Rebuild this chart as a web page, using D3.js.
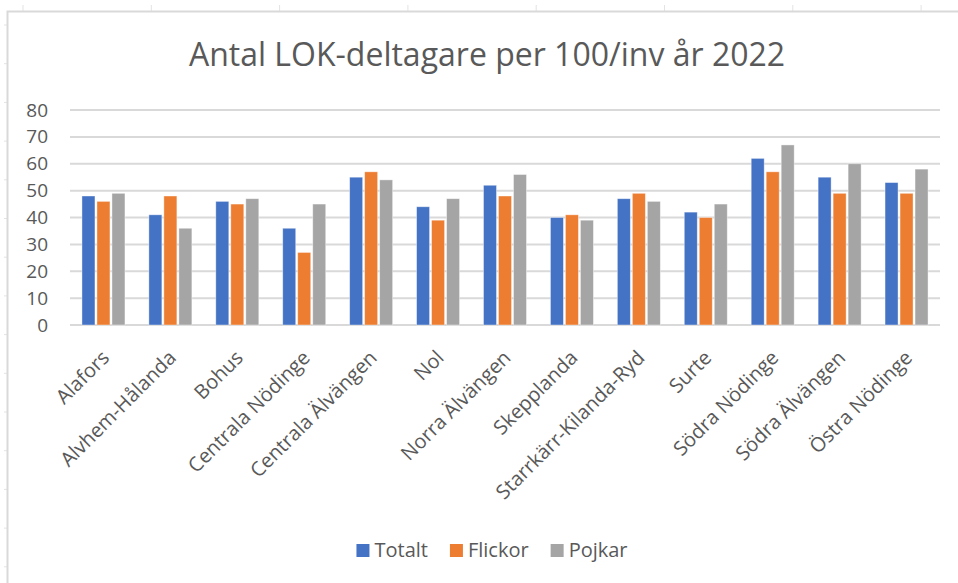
<!DOCTYPE html>
<html>
<head>
<meta charset="utf-8">
<script src="https://cdn.jsdelivr.net/npm/d3@7"></script>
<style>
  body { margin: 0; background: #fff; }
  text { font-family: "Open Sans", sans-serif; fill: #595959; }
</style>
</head>
<body>
<div class="chart"></div>
<script>
// data
var categories = ["Alafors", "Alvhem-Hålanda", "Bohus", "Centrala Nödinge", "Centrala Älvängen",
  "Nol", "Norra Älvängen", "Skepplanda", "Starrkärr-Kilanda-Ryd", "Surte",
  "Södra Nödinge", "Södra Älvängen", "Östra Nödinge"];
var seriesNames = ["Totalt", "Flickor", "Pojkar"];
var totalt  = [48, 41, 46, 36, 55, 44, 52, 40, 47, 42, 62, 55, 53];
var flickor = [46, 48, 45, 27, 57, 39, 48, 41, 49, 40, 57, 49, 49];
var pojkar  = [49, 36, 47, 45, 54, 47, 56, 39, 46, 45, 67, 60, 58];
var yTicks = [0, 10, 20, 30, 40, 50, 60, 70, 80];
var colors = ["#4472C4", "#ED7D31", "#A5A5A5"];

var svgWidth = 958;
var svgHeight = 583;
var plot = { left: 70, right: 940, top: 110, bottom: 325 };

var svg = d3.select(".chart")
  .append("svg")
  .attr("width", svgWidth)
  .attr("height", svgHeight)
  .style("display", "block");

// spreadsheet behind the chart: faint cell ticks + chart frame
var sheet = svg.append("g");
d3.range(23, svgWidth, 128.3).forEach(function(x) {
  sheet.append("line").attr("x1", x).attr("x2", x).attr("y1", 5).attr("y2", 11)
    .attr("stroke", "#e3e3e3").attr("stroke-width", 1);
});
d3.range(25, svgHeight, 38.7).forEach(function(y) {
  sheet.append("line").attr("x1", 4).attr("x2", 7).attr("y1", y).attr("y2", y)
    .attr("stroke", "#e3e3e3").attr("stroke-width", 1);
});
sheet.append("path")
  .attr("d", "M7.5," + svgHeight + "V11.5H" + svgWidth)
  .attr("fill", "none")
  .attr("stroke", "#d9d9d9")
  .attr("stroke-width", 2);

// scales
var x0 = d3.scaleBand().domain(categories).range([plot.left, plot.right]);
var x1 = d3.scaleBand().domain(seriesNames).range([0, 43]).paddingInner(2 / 15);
var y = d3.scaleLinear().domain([0, 80]).range([plot.bottom, plot.top]);

// gridlines
svg.append("g")
  .selectAll("line")
  .data(yTicks)
  .enter()
  .append("line")
  .attr("x1", plot.left)
  .attr("x2", plot.right)
  .attr("y1", d => y(d))
  .attr("y2", d => y(d))
  .attr("stroke", "#d9d9d9")
  .attr("stroke-width", 2);

// y axis labels
var leftAxis = d3.axisLeft(y).tickValues(yTicks).tickSize(0).tickPadding(0);
var yAxis = svg.append("g")
  .attr("transform", "translate(48,0)")
  .call(leftAxis);
yAxis.select(".domain").remove();
yAxis.selectAll("text")
  .style("font-size", "19px")
  .style("font-family", "'Open Sans', sans-serif")
  .attr("fill", "#595959");

// bars
var rows = categories.map(function(c, i) {
  return { cat: c, values: [totalt[i], flickor[i], pojkar[i]] };
});
var groupOffset = (x0.bandwidth() - 43) / 2;

var groups = svg.append("g")
  .selectAll("g")
  .data(rows)
  .enter()
  .append("g")
  .attr("transform", d => `translate(${x0(d.cat) + groupOffset},0)`);

groups.selectAll("rect")
  .data(d => d.values.map((v, j) => ({ name: seriesNames[j], value: v, color: colors[j] })))
  .enter()
  .append("rect")
  .attr("x", d => x1(d.name))
  .attr("width", x1.bandwidth())
  .attr("y", d => y(d.value))
  .attr("height", d => y(0) - y(d.value))
  .attr("fill", d => d.color)
  .attr("stroke", "#ffffff")
  .attr("stroke-opacity", 0.5)
  .attr("stroke-width", 0.8);

// x axis labels (rotated)
svg.append("g")
  .selectAll("text")
  .data(categories)
  .enter()
  .append("text")
  .attr("transform", d => `translate(${x0(d) + x0.bandwidth() / 2 + 7},359) rotate(-45)`)
  .attr("text-anchor", "end")
  .style("font-size", "20px")
  .text(d => d);

// title
svg.append("text")
  .attr("x", 487)
  .attr("y", 66)
  .attr("text-anchor", "middle")
  .style("font-size", "32px")
  .text("Antal LOK-deltagare per 100/inv år 2022");

// legend
var legend = svg.append("g");
var lx = 0;
seriesNames.forEach(function(name, i) {
  var item = legend.append("g").attr("transform", `translate(${lx},0)`);
  item.append("rect")
    .attr("x", 0).attr("y", -13)
    .attr("width", 13).attr("height", 13)
    .attr("fill", colors[i]);
  var t = item.append("text")
    .attr("x", 18)
    .attr("y", 0)
    .style("font-size", "20px")
    .text(name);
  lx += 18 + t.node().getComputedTextLength() + 22;
});
var legendWidth = lx - 22;
legend.attr("transform", `translate(${492 - legendWidth / 2},557)`);
</script>
</body>
</html>
